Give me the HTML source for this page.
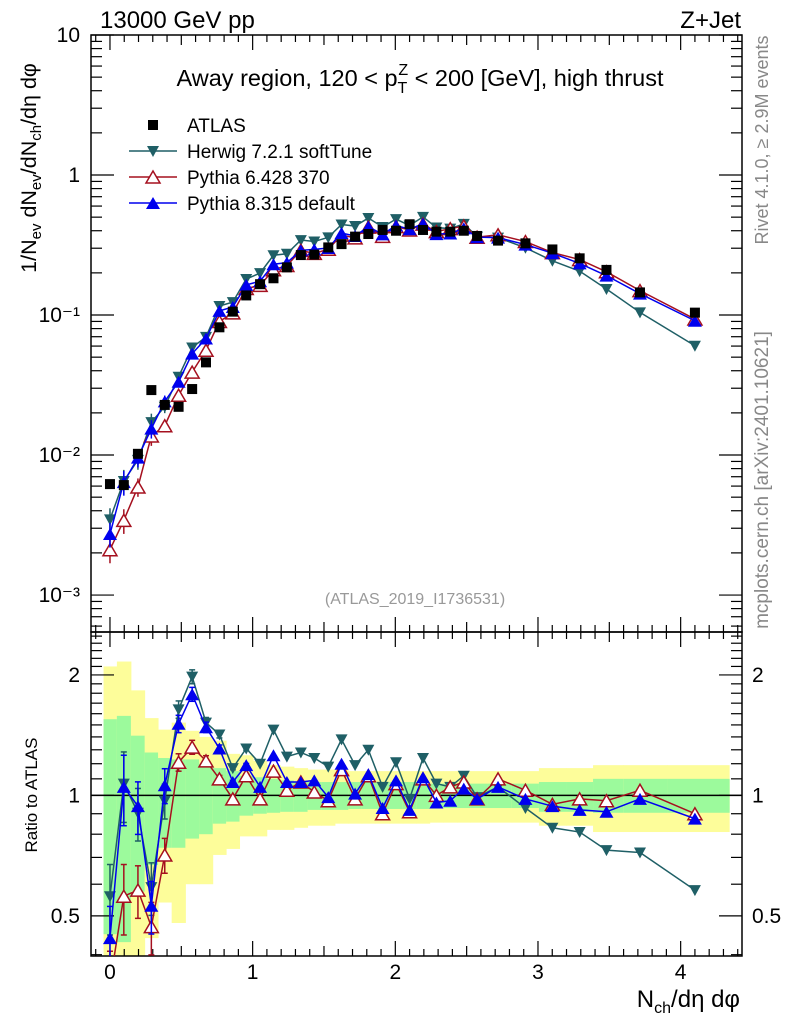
<!DOCTYPE html>
<html><head><meta charset="utf-8"><style>
html,body{margin:0;padding:0;background:#fff;}
svg{display:block;font-family:"Liberation Sans",sans-serif;}
</style></head><body>
<svg id="c" width="786" height="1024" viewBox="0 0 786 1024" xmlns="http://www.w3.org/2000/svg">
<text x="100" y="28" font-size="24">13000 GeV pp</text>
<text x="741" y="28" font-size="24" text-anchor="end">Z+Jet</text>
<text x="420" y="86" font-size="23.5" text-anchor="middle">Away region, 120 &lt; p<tspan font-size="16" dy="7">T</tspan><tspan font-size="16" dx="-9" dy="-18">Z</tspan><tspan dy="11"> &lt; 200 [GeV], high thrust</tspan></text>
<text transform="translate(36,168) rotate(-90)" font-size="21.5" text-anchor="middle">1/N<tspan font-size="15" dy="5">ev</tspan><tspan dy="-5"> dN</tspan><tspan font-size="15" dy="5">ev</tspan><tspan dy="-5">/dN</tspan><tspan font-size="15" dy="5">ch</tspan><tspan dy="-5">/dη dφ</tspan></text>
<text transform="translate(768,140) rotate(-90)" font-size="18" fill="#888" text-anchor="middle">Rivet 4.1.0, ≥ 2.9M events</text>
<text transform="translate(768,480) rotate(-90)" font-size="19" fill="#888" text-anchor="middle">mcplots.cern.ch [arXiv:2401.10621]</text>
<text x="415" y="604" font-size="16" fill="#999" text-anchor="middle">(ATLAS_2019_I1736531)</text>
<text transform="translate(37,795) rotate(-90)" font-size="17" text-anchor="middle">Ratio to ATLAS</text>
<text x="740" y="1007" font-size="24" text-anchor="end">N<tspan font-size="16" dy="6">ch</tspan><tspan dy="-6">/dη dφ</tspan></text>
<g id="legend">
<g><rect x="148" y="120" width="10" height="10" fill="#000"/><text x="187" y="132" font-size="19">ATLAS</text></g>
<g><line x1="129" y1="151" x2="177" y2="151" stroke="#1f5f66" stroke-width="1.5"/><path d="M147,146 L159,146 L153,157 Z" fill="#1f5f66"/><text x="187" y="158" font-size="19">Herwig 7.2.1 softTune</text></g>
<g><line x1="129" y1="177" x2="177" y2="177" stroke="#a5101f" stroke-width="1.5"/><path d="M153,171 L160,183 L146,183 Z" fill="#fff" stroke="#a5101f" stroke-width="1.5"/><text x="187" y="184" font-size="19">Pythia 6.428 370</text></g>
<g><line x1="129" y1="203" x2="177" y2="203" stroke="#0000ee" stroke-width="1.5"/><path d="M153,197 L160,209 L146,209 Z" fill="#0000ee"/><text x="187" y="210" font-size="19">Pythia 8.315 default</text></g>
</g>
</svg>
<script>
const xCenters=[0,0.097,0.196,0.29,0.384,0.481,0.576,0.673,0.767,0.861,0.955,1.052,1.146,1.24,1.338,1.432,1.53,1.623,1.718,1.811,1.911,2.005,2.1,2.194,2.288,2.385,2.48,2.573,2.72,2.912,3.101,3.292,3.48,3.715,4.1];
const atlas=[0.0062,0.0061,0.0102,0.0291,0.0228,0.0221,0.0296,0.0459,0.0817,0.1057,0.138,0.166,0.183,0.219,0.268,0.27,0.304,0.321,0.363,0.379,0.405,0.40,0.445,0.405,0.394,0.394,0.40,0.367,0.34,0.325,0.294,0.254,0.21,0.145,0.104];
const herwigRatio=[0.56,1.07,0.905,0.59,0.97,1.64,1.98,1.52,1.42,1.17,1.31,1.2,1.46,1.25,1.28,1.24,1.18,1.38,1.19,1.30,1.05,1.21,0.98,1.24,1.07,1.05,1.12,0.99,1.05,0.93,0.83,0.81,0.73,0.72,0.58];
const py6Ratio=[0.34,0.56,0.58,0.47,0.71,1.21,1.32,1.22,1.10,0.98,1.12,0.98,1.15,1.03,1.08,1.02,0.97,1.16,0.98,1.12,0.9,1.07,0.91,1.10,1.0,1.05,1.08,0.98,1.10,1.03,0.95,0.98,0.97,1.03,0.9];
const py8Ratio=[0.44,1.05,0.94,0.53,1.06,1.51,1.79,1.48,1.31,1.08,1.19,1.05,1.26,1.08,1.08,1.09,0.99,1.2,1.01,1.13,0.93,1.09,0.92,1.11,0.96,0.97,1.04,0.98,1.05,0.98,0.94,0.92,0.91,0.98,0.875];
const mcErr=[0.2,0.2,0.15,0.15,0.1,0.05,0.04,0.03,0.02,0.01,0.01,0,0,0,0,0,0,0,0,0,0,0,0,0,0,0,0,0,0,0,0,0,0,0,0];
const yellowHi=[2.10,2.16,1.83,1.56,1.46,1.52,1.45,1.40,1.37,1.27,1.26,1.22,1.19,1.18,1.17,1.16,1.16,1.16,1.15,1.15,1.15,1.15,1.15,1.15,1.15,1.15,1.15,1.15,1.15,1.15,1.17,1.17,1.19,1.19,1.19];
const yellowLo=[0.39,0.39,0.39,0.44,0.54,0.48,0.60,0.60,0.71,0.735,0.79,0.79,0.82,0.82,0.83,0.84,0.84,0.85,0.85,0.85,0.85,0.85,0.85,0.85,0.855,0.855,0.855,0.855,0.855,0.855,0.84,0.84,0.81,0.81,0.81];
const greenHi=[1.55,1.58,1.41,1.28,1.24,1.23,1.23,1.20,1.17,1.15,1.12,1.11,1.10,1.09,1.08,1.08,1.08,1.08,1.08,1.08,1.08,1.08,1.08,1.08,1.07,1.07,1.07,1.07,1.07,1.07,1.08,1.08,1.10,1.10,1.10];
const greenLo=[0.45,0.43,0.575,0.67,0.74,0.74,0.78,0.80,0.85,0.86,0.89,0.90,0.905,0.91,0.91,0.92,0.92,0.92,0.925,0.925,0.925,0.925,0.925,0.925,0.93,0.93,0.93,0.93,0.93,0.93,0.91,0.91,0.905,0.905,0.905];
const xTicks=[0,1,2,3,4];
const mainTicks=[["10",1],["1",0],["10⁻¹",-1],["10⁻²",-2],["10⁻³",-3]];
const ratioTicks=["0.5","1","2"];

const NS="http://www.w3.org/2000/svg";
const svg=document.getElementById('c');
const L=91,R=742,T1=35,B1=632,T2=632,B2=956;
const X0=-0.133,X1=4.43;
const sx=v=>L+(v-X0)/(X1-X0)*(R-L);
const LOGTOP=1,LOGBOT=-3.264;
const sy=v=>T1+(LOGTOP-Math.log10(v))/(LOGTOP-LOGBOT)*(B1-T1);
const RTOP=Math.log2(2.56),RBOT=Math.log2(0.397);
const ry=v=>T2+(RTOP-Math.log2(v))/(RTOP-RBOT)*(B2-T2);
function el(tag,attrs,parent){const e=document.createElementNS(NS,tag);for(const k in attrs)e.setAttribute(k,attrs[k]);(parent||svg).appendChild(e);return e;}
const gBand=el('g',{});


const edges=[-0.045];
for(let i=0;i<xCenters.length-1;i++)edges.push((xCenters[i]+xCenters[i+1])/2);
edges.push(4.34);
const clip=el('clipPath',{id:'rc'});el('rect',{x:L,y:T2,width:R-L,height:B2-T2},clip);
const clip1=el('clipPath',{id:'mc'});el('rect',{x:L,y:T1,width:R-L,height:B1-T1},clip1);
gBand.setAttribute('clip-path','url(#rc)');
for(let i=0;i<xCenters.length;i++){
  const a=sx(edges[i]),b=sx(edges[i+1]);
  const y=el('rect',{x:a,y:ry(yellowHi[i]),width:b-a+0.5,height:ry(yellowLo[i])-ry(yellowHi[i]),fill:'#fdfd9a'},gBand);
  
  
  const g=el('rect',{x:a,y:ry(greenHi[i]),width:b-a+0.5,height:ry(greenLo[i])-ry(greenHi[i]),fill:'#9cfa9c'},gBand);
  
  
}
const one=el('line',{x1:L,x2:R,y1:ry(1),y2:ry(1),stroke:'#000','stroke-width':1.5});


const f1=el('rect',{x:L,y:T1,width:R-L,height:B1-T1,fill:'none',stroke:'#000','stroke-width':1.5});


const f2=el('rect',{x:L,y:T2,width:R-L,height:B2-T2,fill:'none',stroke:'#000','stroke-width':1.5});


const gt=el('g',{stroke:'#000','stroke-width':1.2});


for(let k=-1;k<=44;k++){const v=k/10;if(v<X0||v>X1)continue;const x=sx(v);const len=(k%10===0)?15:(k%5===0?10:7);
  [[T1,1],[B1,-1],[T2,1],[B2,-1]].forEach(([y,d])=>el('line',{x1:x,x2:x,y1:y,y2:y+d*len},gt));}
for(let d=-4;d<=1;d++){for(let m=1;m<=9;m++){const v=m*Math.pow(10,d);const lv=Math.log10(v);if(lv>LOGTOP+1e-9||lv<LOGBOT)continue;const y=sy(v);const len=m===1?23:11;
  el('line',{x1:L,x2:L+len,y1:y,y2:y},gt);el('line',{x1:R,x2:R-len,y1:y,y2:y},gt);}}
for(let m=4;m<=25;m++){const v=m/10;if(v>2.56||v<0.397)continue;const y=ry(v);const maj=(m===5||m===10||m===20);const len=maj?23:11;
  el('line',{x1:L,x2:L+len,y1:y,y2:y},gt);el('line',{x1:R,x2:R-len,y1:y,y2:y},gt);}
xTicks.forEach(v=>{const t=el('text',{x:sx(v),y:979,'font-size':21,'text-anchor':'middle'});t.textContent=String(v);
  
  });
mainTicks.forEach(([s,p])=>{const t=el('text',{x:80,y:sy(Math.pow(10,p))+7,'font-size':21,'text-anchor':'end'});t.textContent=s;
  
  });
ratioTicks.forEach(s=>{const v=parseFloat(s);[[80,'end'],[752,'start']].forEach(([x,a])=>{const t=el('text',{x:x,y:ry(v)+7,'font-size':21,'text-anchor':a});t.textContent=s;
  
  });});
function marker(g,type,x,y,col){
  if(type==='sq')return el('rect',{x:x-5,y:y-5,width:10,height:10,fill:col},g);
  if(type==='down')return el('path',{d:`M${x-6},${y-5} L${x+6},${y-5} L${x},${y+6} Z`,fill:col},g);
  if(type==='up')return el('path',{d:`M${x},${y-6} L${x+7},${y+6} L${x-7},${y+6} Z`,fill:col},g);
  return el('path',{d:`M${x},${y-6} L${x+7},${y+6} L${x-7},${y+6} Z`,fill:'#fff',stroke:col,'stroke-width':1.5},g);
}
function series(name,ratio,col,type,withMain){
  const gm=el('g',{'clip-path':'url(#mc)'});
  
  
  const gr=el('g',{'clip-path':'url(#rc)'});
  
  
  const pm=[],pr=[];
  xCenters.forEach((xv,i)=>{const val=ratio[i]*atlas[i];pm.push(sx(xv)+','+sy(val));pr.push(sx(xv)+','+ry(ratio[i]));});
  if(withMain){const l=el('polyline',{points:pm.join(' '),fill:'none',stroke:col,'stroke-width':1.5},gm);
    
    }
  const l2=el('polyline',{points:pr.join(' '),fill:'none',stroke:col,'stroke-width':1.5},gr);
  
  
  xCenters.forEach((xv,i)=>{
    const x=sx(xv),e=mcErr[i];
    if(e>0){const v=ratio[i]*atlas[i];
      el('line',{x1:x,x2:x,y1:sy(v*(1+e)),y2:sy(v*(1-e)),stroke:col,'stroke-width':1.5},gm);
      el('line',{x1:x,x2:x,y1:ry(ratio[i]*(1+e)),y2:ry(ratio[i]*(1-e)),stroke:col,'stroke-width':1.5},gr);
      [ry(ratio[i]*(1+e)),ry(ratio[i]*(1-e))].forEach(yy=>el('line',{x1:x-3,x2:x+3,y1:yy,y2:yy,stroke:col,'stroke-width':1.5},gr));}
    const m=marker(gm,type,x,sy(ratio[i]*atlas[i]),col);
    
    
    const m2=marker(gr,type,x,ry(ratio[i]),col);
    
    
  });
}
series('herwig',herwigRatio,'#1f5f66','down',true);
series('pythia6',py6Ratio,'#a5101f','open',true);
series('pythia8',py8Ratio,'#0000ee','up',true);
const ga=el('g',{});


xCenters.forEach((xv,i)=>{const m=marker(ga,'sq',sx(xv),sy(atlas[i]),'#000');
  
  });
</script>
</body></html>
